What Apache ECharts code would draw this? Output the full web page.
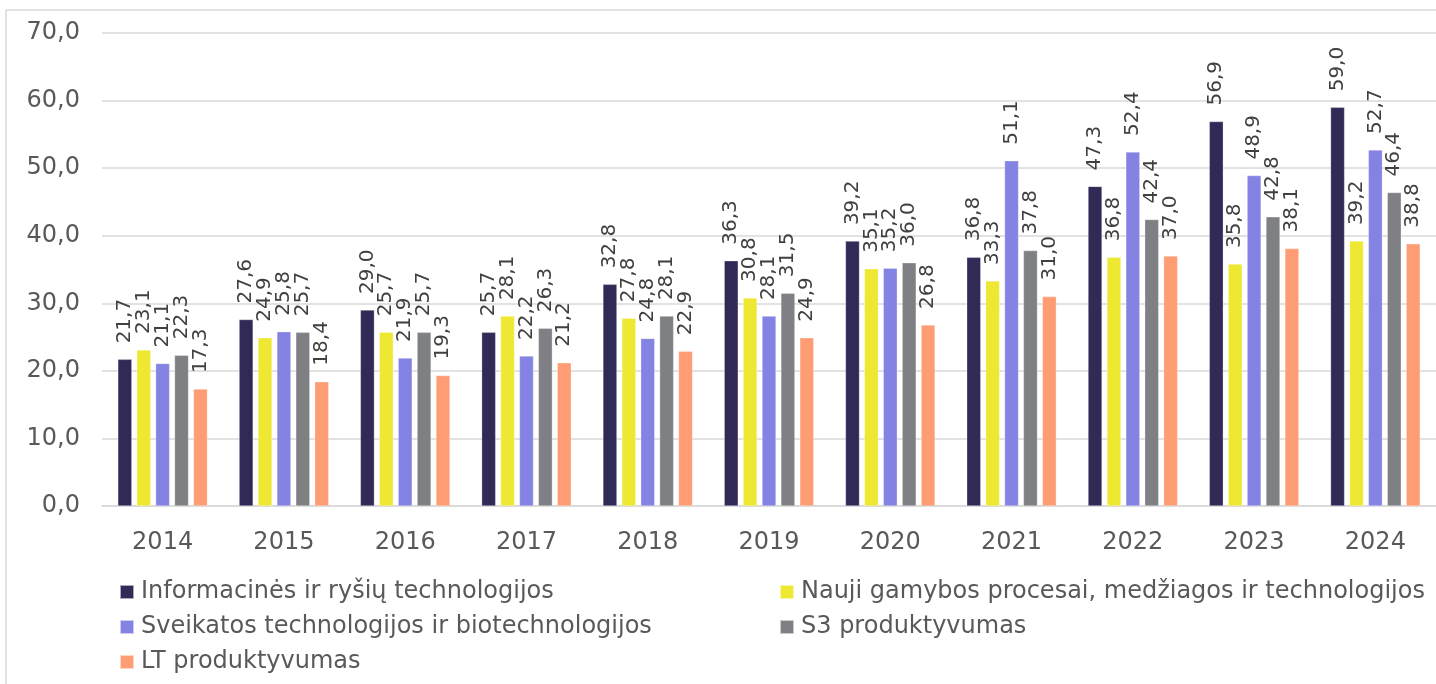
<!DOCTYPE html>
<html>
<head>
<meta charset="utf-8">
<script src="https://cdn.jsdelivr.net/npm/echarts@6/dist/echarts.min.js"></script>
<style>
html,body{margin:0;padding:0;background:#fff;}
#c{width:1436px;height:684px;}
</style>
</head>
<body>
<div id="c"></div>
<script>
const years = ['2014','2015','2016','2017','2018','2019','2020','2021','2022','2023','2024'];
const seriesNames = [
  'Informacinės ir ryšių technologijos',
  'Nauji gamybos procesai, medžiagos ir technologijos',
  'Sveikatos technologijos ir biotechnologijos',
  'S3 produktyvumas',
  'LT produktyvumas'
];
const ict    = [21.7, 27.6, 29.0, 25.7, 32.8, 36.3, 39.2, 36.8, 47.3, 56.9, 59.0];
const nauji  = [23.1, 24.9, 25.7, 28.1, 27.8, 30.8, 35.1, 33.3, 36.8, 35.8, 39.2];
const sveik  = [21.1, 25.8, 21.9, 22.2, 24.8, 28.1, 35.2, 51.1, 52.4, 48.9, 52.7];
const s3     = [22.3, 25.7, 25.7, 26.3, 28.1, 31.5, 36.0, 37.8, 42.4, 42.8, 46.4];
const lt     = [17.3, 18.4, 19.3, 21.2, 22.9, 24.9, 26.8, 31.0, 37.0, 38.1, 38.8];
const yTicks = {min: 0, max: 70, interval: 10};
const colors = ['#312a57', '#eee832', '#8482e2', '#7f8084', '#fe9c73'];

const allData = [ict, nauji, sveik, s3, lt];
const fontFamily = '"DejaVu Sans", Verdana, sans-serif';
const fmt = v => v.toFixed(1).replace('.', ',');

const chart = echarts.init(document.getElementById('c'));
chart.setOption({
  animation: false,
  color: colors,
  textStyle: {fontFamily: fontFamily},
  grid: {left: 102, top: 33, bottom: 178, width: 1343, containLabel: false},
  graphic: [
    {type: 'line', shape: {x1: 6, y1: 10, x2: 6, y2: 684}, style: {stroke: '#d9d9d9', lineWidth: 1.5}},
    {type: 'line', shape: {x1: 6, y1: 10, x2: 1436, y2: 10}, style: {stroke: '#d9d9d9', lineWidth: 1.5}}
  ],
  xAxis: {
    type: 'category',
    data: years,
    axisLine: {lineStyle: {color: '#d9d9d9', width: 1.5}},
    axisTick: {show: false},
    axisLabel: {color: '#595959', fontSize: 24, margin: 25, fontFamily: fontFamily}
  },
  yAxis: {
    type: 'value',
    min: yTicks.min, max: yTicks.max, interval: yTicks.interval,
    axisLine: {show: false},
    axisTick: {show: false},
    splitLine: {lineStyle: {color: '#d9d9d9', width: 1.5}},
    axisLabel: {color: '#595959', fontSize: 24, margin: 22, fontFamily: fontFamily, formatter: v => fmt(v)}
  },
  legend: [
    {
      data: [seriesNames[0], seriesNames[2], seriesNames[4]],
      orient: 'vertical', left: 114, top: 575,
      itemWidth: 14, itemHeight: 14, itemGap: 11,
      icon: 'rect',
      textStyle: {color: '#595959', fontSize: 24, fontFamily: fontFamily, padding: [0, 0, 0, 2]}
    },
    {
      data: [seriesNames[1], seriesNames[3]],
      orient: 'vertical', left: 774, top: 575,
      itemWidth: 14, itemHeight: 14, itemGap: 11,
      icon: 'rect',
      textStyle: {color: '#595959', fontSize: 24, fontFamily: fontFamily, padding: [0, 0, 0, 2]}
    }
  ],
  series: seriesNames.map((name, i) => ({
    name: name,
    type: 'bar',
    data: allData[i],
    barWidth: 14,
    barGap: '35%',
    itemStyle: {color: colors[i], borderColor: 'rgba(255,255,255,0.6)', borderWidth: 0.5},
    label: {
      show: true,
      position: 'top',
      rotate: 90,
      align: 'left',
      verticalAlign: 'middle',
      distance: 16,
      color: '#404040',
      fontSize: 20,
      fontFamily: fontFamily,
      formatter: p => fmt(p.value)
    }
  }))
});
</script>
</body>
</html>
